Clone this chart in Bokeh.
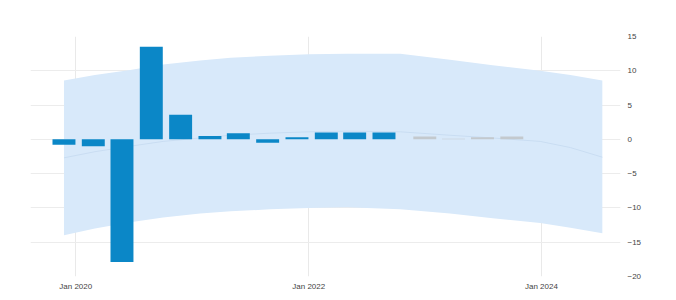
import pandas as pd
from bokeh.plotting import figure
from bokeh.models import ColumnDataSource, FixedTicker, DatetimeTickFormatter, Range1d
from bokeh.embed import file_html
from bokeh.resources import INLINE

# ---- data ----
actual_dates = ["2019-11-25", "2020-02-25", "2020-05-25", "2020-08-25", "2020-11-25", "2021-02-25",
                "2021-05-25", "2021-08-25", "2021-11-25", "2022-02-25", "2022-05-25", "2022-08-25"]
actual_values = [-0.8, -1.0, -17.9, 13.5, 3.6, 0.5, 0.9, -0.5, 0.3, 1.0, 1.0, 1.0]

forecast_dates = ["2022-12-31", "2023-03-31", "2023-06-30", "2023-09-30"]
forecast_values = [0.4, 0.1, 0.3, 0.4]

band_dates = ["2019-11-25", "2020-03-01", "2020-06-20", "2020-10-01", "2021-01-25", "2021-05-01",
              "2021-09-01", "2022-01-01", "2022-05-01", "2022-10-15", "2023-03-20", "2023-08-01",
              "2023-12-28", "2024-04-01", "2024-07-10"]
band_upper = [8.6, 9.4, 10.1, 10.9, 11.5, 11.9, 12.2, 12.4, 12.5, 12.5, 11.6, 10.8, 10.0, 9.4, 8.6]
band_lower = [-14.0, -13.0, -12.1, -11.4, -10.8, -10.5, -10.2, -10.0, -9.9, -10.2, -10.8, -11.5, -12.2, -12.9, -13.7]
trend_values = [-2.7, -1.8, -1.0, -0.3, 0.2, 0.6, 0.9, 1.1, 1.2, 1.1, 0.6, 0.2, -0.3, -1.2, -2.6]

y_ticks = [-20, -15, -10, -5, 0, 5, 10, 15]
x_tick_dates = ["2020-01-01", "2022-01-01", "2024-01-01"]

# ---- sources ----
src_act = ColumnDataSource(dict(x=pd.to_datetime(actual_dates), y=actual_values))
src_fc = ColumnDataSource(dict(x=pd.to_datetime(forecast_dates), y=forecast_values))
src_band = ColumnDataSource(dict(x=pd.to_datetime(band_dates), up=band_upper, lo=band_lower, mid=trend_values))

def ms(d):
    return pd.Timestamp(d).value / 1e6

p = figure(width=670, height=298, x_axis_type="datetime", output_backend="svg",
           toolbar_location=None, y_axis_location="right",
           x_range=Range1d(ms("2019-08-12"), ms("2024-09-05")),
           y_range=Range1d(-20, 15),
           min_border_left=30, min_border_right=50, min_border_top=36, min_border_bottom=22)

p.outline_line_color = None
p.background_fill_color = "white"

p.varea(x="x", y1="lo", y2="up", source=src_band, fill_color="#d8e9fa", fill_alpha=1.0)
p.line(x="x", y="mid", source=src_band, line_color="#c9ddf2", line_width=1.0)

bar_w = 72 * 86400000
p.vbar(x="x", top="y", bottom=0, width=bar_w, source=src_act, fill_color="#0b87c7", line_color=None)
p.vbar(x="x", top="y", bottom=0, width=bar_w, source=src_fc, fill_color="#c3c9ce", line_color=None)

# axes
p.xaxis.ticker = FixedTicker(ticks=[ms(d) for d in x_tick_dates])
fmt = "%b %Y"
p.xaxis.formatter = DatetimeTickFormatter(years=fmt, months=fmt, days=fmt, hours=fmt, minutes=fmt,
                                          seconds=fmt, milliseconds=fmt, microseconds=fmt, hourmin=fmt, minsec=fmt)
p.yaxis.ticker = FixedTicker(ticks=y_ticks)
for ax in (p.xaxis, p.yaxis):
    ax.axis_line_color = None
    ax.major_tick_line_color = None
    ax.minor_tick_line_color = None
    ax.major_tick_out = 0
    ax.major_tick_in = 0
    ax.minor_tick_out = 0
    ax.major_label_text_font = "Liberation Sans"
    ax.major_label_text_font_size = "8px"
    ax.major_label_text_color = "#444444"
p.xaxis.major_label_standoff = 5
p.yaxis.major_label_standoff = 7

p.xgrid.ticker = FixedTicker(ticks=[ms(d) for d in x_tick_dates])
p.ygrid.ticker = FixedTicker(ticks=y_ticks)
p.xgrid.grid_line_color = "#e9e9e9"
p.ygrid.grid_line_color = "#ececec"

open("out.html", "w").write(file_html(p, INLINE))
